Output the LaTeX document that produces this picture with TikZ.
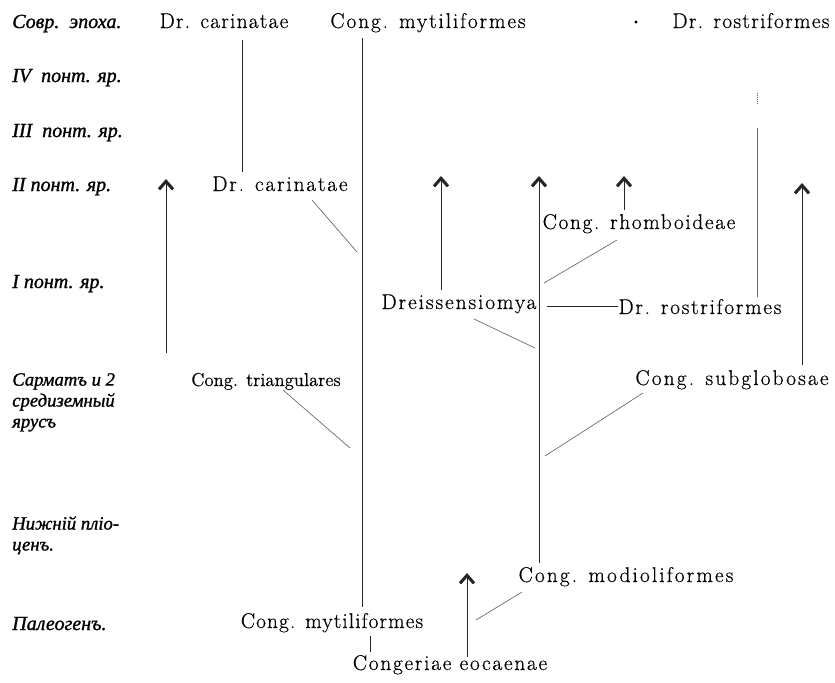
\documentclass[tikz,border=0pt]{standalone}
\usepackage{fontspec}
\setmainfont{Latin Modern Roman}
\newfontfamily\cyr{Liberation Serif}
\usetikzlibrary{arrows.meta,calc}
\tikzset{
  lat/.style={font=\fontsize{16}{19}\selectfont\addfontfeatures{LetterSpace=#1,FakeBold=0.5}, inner sep=0pt, anchor=base},
  era/.style={font=\cyr\itshape\fontsize{15}{17}\selectfont\addfontfeatures{FakeBold=1.2}, inner sep=0pt, anchor=base west},
  eram/.style={era, font=\cyr\itshape\fontsize{14}{15.7}\selectfont\addfontfeatures{FakeBold=1.2}, align=left, anchor=north west},
  ln/.style={line width=0.6pt, black!85},
  faint/.style={line width=0.5pt, black!60},
  up/.style={ln, -{Straight Barb[length=6pt,width=10.5pt,line width=2.3pt]}},
}
\begin{document}
\begin{tikzpicture}[x=0.75pt,y=-0.75pt]
\useasboundingbox (0,0) rectangle (835,682);
% era labels
\node[era] (e0) at (12,28) {Совр.\ \ эпоха.};
\node[era] (e1) at (12,82) {IV\ \ понт. яр.};
\node[era] (e2) at (12,137) {III\ \ понт. яр.};
\node[era] (e3) at (12,191) {II понт. яр.};
\node[era] (e4) at (12,288) {I понт. яр.};
\node[eram] (e5) at (12,373) {Сарматъ и 2\\средиземный\\ярусъ};
\node[eram] (e6) at (12,516) {Нижній пліо-\\ценъ.};
\node[era] (e7) at (12,630) {Палеогенъ.};
% taxa
\node[lat=5.8] (c1) at (224,28) {Dr. carinatae};
\node[lat=8.8] (m1) at (428,28) {Cong. mytiliformes};
\node[circle, fill, inner sep=0pt, minimum size=2.5pt] (dot) at (636,22) {};
\node[lat=6.2] (r1) at (751,28) {Dr. rostriformes};
\node[lat=8.5] (c2) at (280,191) {Dr. carinatae};
\node[lat=7.7] (rh) at (639,229) {Cong. rhomboideae};
\node[lat=9] (dm) at (459,309) {Dreissensiomya};
\node[lat=8.1] (r2) at (700,314) {Dr. rostriformes};
\node[lat=0, font=\fontsize{14}{17}\selectfont\addfontfeatures{FakeBold=0.5}] (tr) at (266,386) {Cong. triangulares};
\node[lat=10] (sg) at (732,385) {Cong. subglobosae};
\node[lat=9.9] (md) at (626,582) {Cong. modioliformes};
\node[lat=5.1] (m2) at (332,628) {Cong. mytiliformes};
\node[lat=8.1] (ce) at (450,670) {Congeriae eocaenae};
% vertical guides
\coordinate (v1) at (242,0);
\coordinate (v2) at (362,0);
\coordinate (v3) at (539,0);
\coordinate (v4) at (757,0);
\coordinate (va1) at (166,0);
\coordinate (va2) at (441,0);
\coordinate (va4) at (624,0);
\coordinate (va5) at (802,0);
\coordinate (va6) at (467,0);
\coordinate (vb) at (370,0);
% arrow tips
\coordinate (t1) at (166,179);
\coordinate (t2) at (441,176);
\coordinate (t3) at (539,176);
\coordinate (t4) at (624,176);
\coordinate (t5) at (802,183);
\coordinate (t6) at (467,573);
% connectors
\draw[ln] ($(c1.base -| v1)+(0,12)$) -- ($(c2.base -| v1)+(0,-19)$);
\draw[ln] ($(m1.base -| v2)+(0,10)$) -- ($(m2.base -| v2)+(0,-21)$);
\draw[faint] ($(c2.base)+(32,9)$) -- ++(45,52);
\draw[faint] ($(tr.base)+(17,4)$) -- ++(67,58);
\draw[up] ($(tr.base -| va1)+(0,-33)$) -- (t1);
\draw[up] ($(dm.base -| va2)+(0,-19)$) -- (t2);
\draw[up] ($(md.base -| v3)+(0,-19)$) -- (t3);
\draw[up] ($(rh.base -| va4)+(0,-19)$) -- (t4);
\draw[faint] ($(rh.base)+(-22,11)$) -- ++(-73,43);
\draw[faint] ($(dm.base)+(15,10)$) -- ++(61,29);
\draw[ln] ($(v3 |- r2.west)+(8,0)$) -- (r2.west);
\draw[faint] ($(r1.base -| v4)+(0,100)$) -- ($(r2.base -| v4)+(0,-17)$);
\draw[faint, densely dotted] ($(r1.base -| v4)+(0,65)$) -- ++(0,12);
\draw[up] ($(sg.base -| va5)+(0,-20)$) -- (t5);
\draw[faint] ($(sg.base)+(-89,8)$) -- ++(-98,63);
\draw[faint] ($(md.base)+(-104,10)$) -- ++(-46,28);
\draw[up] ($(ce.base -| va6)+(0,-13)$) -- (t6);
\draw[ln] ($(m2.base -| vb)+(0,8)$) -- ($(ce.base -| vb)+(0,-18)$);
\end{tikzpicture}
\end{document}
